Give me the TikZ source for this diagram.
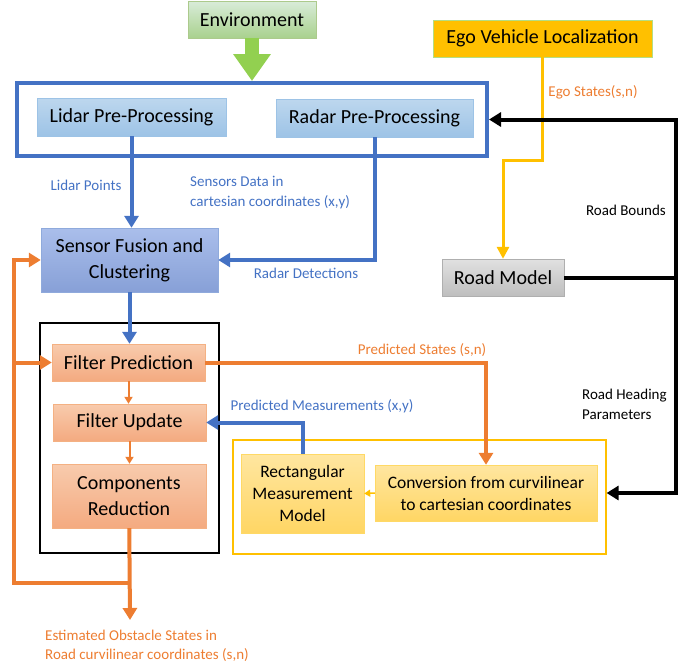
\documentclass[tikz,border=0pt]{standalone}
\usepackage{fontspec}
\setmainfont{Carlito}
\usetikzlibrary{arrows.meta,positioning,calc}
\definecolor{mblue}{HTML}{4472C4}
\definecolor{morange}{HTML}{ED7D31}
\definecolor{myellow}{HTML}{FFC000}
\definecolor{mgreen}{HTML}{92D050}
\begin{document}
\begin{tikzpicture}[x=1pt,y=-1pt]
    \tikzset{block/.style={
        draw, inner sep=0pt, align=center, font=\fontsize{20}{26}\selectfont
      },
      greenbox/.style={block, draw=mgreen!80!black!60, top color=green!50!black!15!white, bottom color={rgb,255:red,169;green,209;blue,142}},
      bluebox/.style={block, draw={rgb,255:red,157;green,195;blue,230}, top color={rgb,255:red,189;green,215;blue,238}, bottom color={rgb,255:red,157;green,195;blue,230}},
      fusionbox/.style={block, draw={rgb,255:red,143;green,170;blue,220}, top color={rgb,255:red,170;green,190;blue,235}, bottom color={rgb,255:red,135;green,160;blue,215}},
      orangebox/.style={block, draw={rgb,255:red,244;green,177;blue,131}, top color={rgb,255:red,248;green,203;blue,173}, bottom color={rgb,255:red,244;green,170;blue,128}},
      yellowbox/.style={block, draw={rgb,255:red,255;green,217;blue,102}, top color={rgb,255:red,255;green,230;blue,160}, bottom color={rgb,255:red,255;green,214;blue,100}},
      graybox/.style={block, draw={rgb,255:red,175;green,175;blue,175}, top color={rgb,255:red,225;green,225;blue,225}, bottom color={rgb,255:red,190;green,190;blue,190}},
      frame/.style={draw, inner sep=0pt},
      lbl/.style={font=\fontsize{15}{19.5}\selectfont, inner sep=0pt, align=left},
      bline/.style={draw=mblue, line width=4pt, -{Triangle[width=14pt,length=12pt]}},
      oline/.style={draw=morange, line width=4pt, -{Triangle[width=14pt,length=12pt]}},
      othin/.style={draw=morange, line width=2pt, -{Triangle[width=8pt,length=7pt]}},
      kline/.style={draw=black, line width=4pt, -{Triangle[width=14pt,length=12pt]}},
      yline/.style={draw=myellow, line width=3pt, -{Triangle[width=12pt,length=12pt]}}
    }

    \useasboundingbox (0,0) rectangle (697,670);

    \node[greenbox, minimum width=128pt, minimum height=37pt] (env) at (252,19.5) {Environment};
    \node[frame, draw=mblue, line width=4pt, minimum width=470pt, minimum height=73pt] (sensors) at (252,119.5) {};
    \node[bluebox, minimum width=189pt, minimum height=38pt] (lidar) at (131.5,117) {Lidar Pre-Processing};
    \node[bluebox, minimum width=197pt, minimum height=38pt] (radar) at (374.5,118) {Radar Pre-Processing};
    \node[fusionbox, minimum width=177pt, minimum height=64pt] (fusion) at (129.5,260) {Sensor Fusion and\\Clustering};

    \node[frame, draw=black, line width=1.2pt, minimum width=179pt, minimum height=230pt] (filterframe) at (129.5,438) {};
    \node[orangebox, minimum width=153pt, minimum height=37pt] (pred) at (128.5,362.5) {Filter Prediction};
    \node[orangebox, minimum width=153pt, minimum height=37pt] (update) at (129.5,422.5) {Filter Update};
    \node[orangebox, minimum width=154pt, minimum height=64pt] (reduction) at (129,496) {Components\\Reduction};

    \node[frame, draw=myellow, line width=1.2pt, minimum width=373pt, minimum height=114pt] (convframe) at (419.5,497) {};
    \node[yellowbox, minimum width=123pt, minimum height=79pt, font=\fontsize{17.5}{22}\selectfont] (rect) at (302.5,493.5) {Rectangular\\Measurement\\Model};
    \node[yellowbox, minimum width=222pt, minimum height=56pt, font=\fontsize{17.5}{22}\selectfont] (conv) at (486,493) {Conversion from curvilinear\\to cartesian coordinates};

    \node[block, draw=mgreen!70, fill=myellow, minimum width=219pt, minimum height=37pt] (ego) at (542.5,38.5) {Ego Vehicle Localization};
    \node[graybox, minimum width=122pt, minimum height=37pt] (road) at (503,277.5) {Road Model};

    \coordinate (estout) at (130,620);
    \coordinate (loopjoin) at (130,583);
    \coordinate (loopleft) at (14,583);
    \coordinate (bus) at ($(road.east)+(112,0)$);

    \draw[draw=mgreen, line width=14pt, -{Triangle[width=36pt,length=27pt]}] (env) -- (sensors.north);
    \draw[bline] (lidar) -- (lidar |- fusion.north);
    \draw[bline] (radar) |- (fusion.east);
    \draw[bline] (fusion) -- (fusion |- pred.north);
    \draw[othin] (pred) -- (pred |- update.north);
    \draw[othin] (update) -- (update |- reduction.north);
    \draw[oline] (reduction) -- (estout);
    \draw[oline] (loopjoin) -- (loopleft) |- (fusion.west);
    \draw[oline] (loopleft |- pred.west) -- (pred.west);
    \draw[oline] (pred.east) -| (conv.north);
    \draw[bline] (rect.north) |- (update.east);
    \draw[draw=myellow, line width=1.5pt, -{Triangle[width=7pt,length=6pt]}] (conv.west) -- (rect.east);
    \draw[yline] (ego.south) -- ++(0,103) -| (road.north);
    \draw[kline] (road.east) -- (bus) |- (sensors.east);
    \draw[kline] (bus) |- (conv.east -| convframe.east);

    \node[lbl, text=mblue] (lidarlbl) at (86,185) {Lidar Points};
    \node[lbl, text=mblue, anchor=west] (sensorlbl) at (190,192.5) {Sensors Data in\\cartesian coordinates (x,y)};
    \node[lbl, text=mblue] (radarlbl) at (306,273) {Radar Detections};
    \node[lbl, text=morange] (predlbl) at (422,350) {Predicted States (s,n)};
    \node[lbl, text=mblue] (measlbl) at (322,406) {Predicted Measurements (x,y)};
    \node[lbl, text=morange] (egolbl) at (593,92) {Ego States(s,n)};
    \node[lbl] (boundslbl) at (626,210) {Road Bounds};
    \node[lbl, anchor=west] (headinglbl) at (582,404.5) {Road Heading\\Parameters};
    \node[lbl, text=morange, anchor=west] (estlbl) at (45,646) {Estimated Obstacle States in\\Road curvilinear coordinates (s,n)};
\end{tikzpicture}
\end{document}
